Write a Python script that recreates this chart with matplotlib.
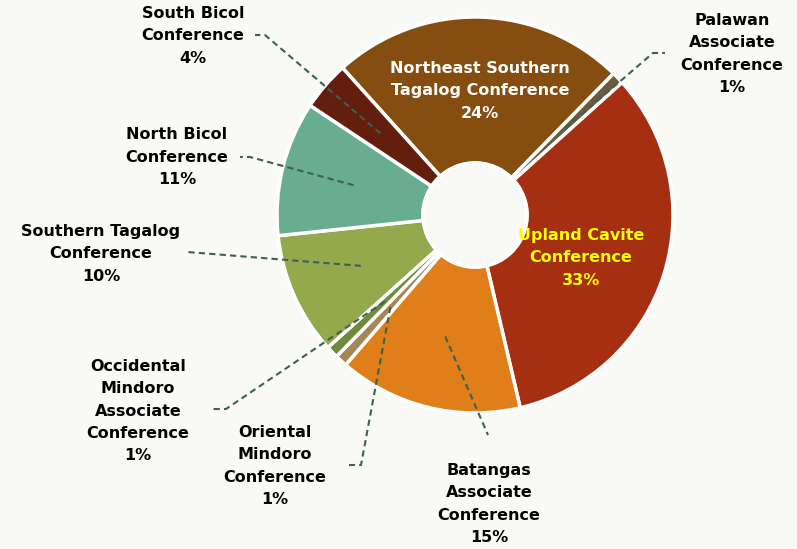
import numpy as np
import matplotlib
matplotlib.use("Agg")
import matplotlib.pyplot as plt

# Data (clockwise from Northeast Southern Tagalog)
labels = ["Northeast Southern\nTagalog Conference", "Palawan\nAssociate\nConference",
          "Upland Cavite\nConference", "Batangas\nAssociate\nConference",
          "Oriental\nMindoro\nConference", "Occidental\nMindoro\nAssociate\nConference",
          "Southern Tagalog\nConference", "North Bicol\nConference", "South Bicol\nConference"]
values = [24, 1, 33, 15, 1, 1, 10, 11, 4]
colors = ["#854D0F", "#6B5B3B", "#A52F10", "#E07F1A", "#A58657", "#6E8B3D",
          "#93A94B", "#68AD8F", "#641E0E"]

W, H = 797, 549
BG = "#F9F9F5"
fig = plt.figure(figsize=(W / 100, H / 100), dpi=100, facecolor=BG)
ax = fig.add_axes([0, 0, 1, 1])
ax.set_facecolor(BG)

cx, cy = 475, H - 215
R, hole = 198, 52
wedges, _ = ax.pie(values, colors=colors, startangle=132, counterclock=False,
                   center=(cx, cy), radius=R,
                   wedgeprops=dict(width=R - hole, edgecolor="white", linewidth=2.5))
ax.add_patch(plt.Circle((cx, cy), hole, facecolor=BG, edgecolor="white", lw=2.5, zorder=3))
ax.set_xlim(0, W)
ax.set_ylim(0, H)
ax.set_aspect("equal")
ax.axis("off")

def py(y):
    return H - y

# label layout: (text center x, y) in pixel coords (y down), color, leader (elbow, end) or None
layout = {
    0: ((480, 91), "white", None),
    1: ((732, 54), "black", ((653, 53), (665, 53))),
    2: ((581, 258), "#FFFF00", None),
    3: ((489, 504), "black", ((488, 435), (488, 435))),
    4: ((275, 466), "black", ((361, 465), (349, 465))),
    5: ((138, 411), "black", ((226, 409), (213, 409))),
    6: ((101, 254), "black", ((200, 253), (187, 252))),
    7: ((177, 157), "black", ((250, 157), (240, 157))),
    8: ((193, 36), "black", ((265, 35), (255, 35))),
}

for i, w in enumerate(wedges):
    (tx, ty), col, leader = layout[i]
    txt = f"{labels[i]}\n{values[i]}%"
    ax.text(tx, py(ty), txt, ha="center", va="center", multialignment="center",
            fontsize=11.5, fontweight="bold", color=col, family="DejaVu Sans",
            linespacing=1.62, zorder=5)
    if leader is not None:
        mid = np.deg2rad((w.theta1 + w.theta2) / 2)
        ax_pt = (cx + 125 * np.cos(mid), cy + 125 * np.sin(mid))
        (ex, ey), (fx, fy) = leader
        ax.plot([ax_pt[0], ex, fx], [ax_pt[1], py(ey), py(fy)], color="#3C6152",
                lw=1.5, ls=(0, (3, 2)), zorder=4)

fig.savefig("out.png", dpi=100, facecolor=BG)
